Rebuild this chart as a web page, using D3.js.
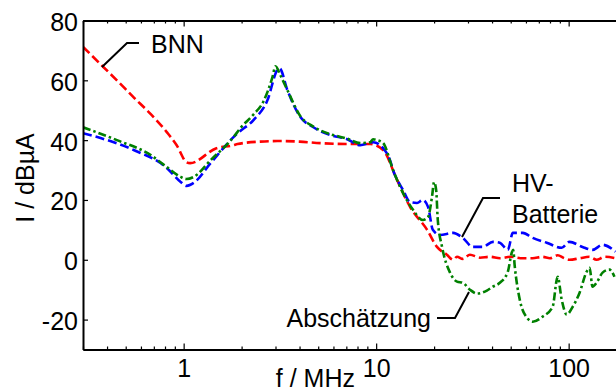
<!DOCTYPE html>
<html>
<head>
<meta charset="utf-8">
<script src="https://cdn.jsdelivr.net/npm/d3@7"></script>
<style>
  body { margin: 0; background: #fff; }
  svg { display: block; font-family: "Liberation Sans", Arial, sans-serif; }
</style>
</head>
<body>
<div id="chart"></div>
<script>
// [frequency in MHz, current in dBµA]
var bnn = [[0.3, 71.2], [0.385, 64.3], [0.45, 60], [0.55, 54.3], [0.675, 48.7],
  [0.817, 42.7], [0.92, 38.3], [1.036, 32.6], [1.08, 32.3],
  [1.48, 37.3], [1.815, 38.3], [1.905, 38.7], [2.5, 39.5], [3.07, 39.7], [4.0, 39.5],
  [5.13, 39], [7.07, 38.7], [9.31, 38.7], [10.87, 36.7], [12.84, 26.7], [15.0, 17.7],
  [18.4, 10], [20.7, 4.3], [23.3, 1.7], [25.1, 0], [26.3, 1], [28.2, 0.3], [30.7, 1.7],
  [34.6, 0.7], [39, 1], [44, 0.5], [50, 1], [57.8, 0.5], [65, 0.5], [73, 1], [80, 0.5],
  [87.7, 1.5], [95, 0.5], [101, 0], [114, 0.5], [128, 1], [139.6, 0], [154, 1], [175, 0.5]]

var hvBatterie = [[0.3, 42.3], [0.37, 40.7], [0.55, 36.7], [0.817, 30.7], [0.965, 26],
  [1.036, 24.7], [1.127, 25.7], [1.38, 32.3], [1.815, 41], [1.905, 42.3], [2.305, 46.7],
  [2.723, 53.3], [3.07, 63.5], [3.15, 64], [3.46, 56.7], [4.04, 47.7], [4.72, 44.3],
  [5.78, 41.7], [7.07, 40.3], [8.26, 38.3], [9.64, 39.3], [10.87, 37.3], [11.8, 33.3],
  [12.24, 30], [13.8, 23.3], [15.0, 19.3], [16.3, 19], [17.5, 20], [18.6, 17.7],
  [19.7, 10], [21.5, 8.3], [25.1, 9], [28.2, 7.3], [31.8, 4.3], [35.8, 4.3], [40.4, 6],
  [43.9, 5.7], [48.3, 3.3], [51.3, 9], [57.8, 9], [65.1, 7.3], [76.9, 5.7], [92.0, 4],
  [101, 6], [118, 4.3], [133, 3.3], [150, 5], [175, 2.7]]

var abschaetzung = [[0.3, 44.3], [0.45, 40], [0.675, 35], [0.817, 31], [0.965, 27.7],
  [1.036, 27], [1.127, 27.7], [1.38, 33.3], [1.815, 41], [1.97, 44], [2.3, 48.5],
  [2.6, 53], [2.89, 61], [3.0, 64.7], [3.18, 61.7], [3.46, 56.7], [4.04, 48], [4.72, 44.5],
  [5.78, 42], [7.07, 40.5], [8.26, 39], [9.31, 39.3], [9.64, 40.3], [10.1, 40],
  [10.87, 39], [12.24, 30], [13.8, 22.3], [15.55, 16.7], [17.5, 13.3], [18.6, 14.3],
  [19.5, 21], [20.0, 26], [20.5, 23.3], [20.9, 13.3], [22.0, 4.3], [24.2, -4.3],
  [26.3, -7.3], [28.2, -7.7], [30.7, -10], [33.4, -11.3], [37.6, -10.3], [40.4, -9],
  [43.9, -7.7], [48.3, -4], [50.7, 2.5], [51.5, 3.3], [52.5, -2.3], [55.7, -13.3],
  [60.6, -19.3], [65.1, -20.7], [73.3, -19], [82.6, -15.7], [86.7, -6.7], [87.7, -5.7],
  [92.0, -13.3], [97.7, -18.3], [105, -15.7], [114, -11], [124, -4], [128.5, -2.7],
  [133, -9], [139.6, -7.7], [150, -4.3], [163, -3.3], [173, -5.7]]

var xMajor = [1, 10, 100]
var xMinor = [0.3, 0.4, 0.5, 0.6, 0.7, 0.8, 0.9, 2, 3, 4, 5, 6, 7, 8, 9,
  20, 30, 40, 50, 60, 70, 80, 90, 200]
var yTicks = [-20, 0, 20, 40, 60, 80]

function init() {
    var w = 616
    var h = 389
    var left = 83
    var top = 20.5
    var bottom = 349.5
    var decade = 192.5

    var svg = d3.select("#chart")
                .append("svg")
                .attr("width", w)
                .attr("height", h)

    var x = d3.scaleLog()
              .domain([0.3, 200])
              .range([left, left + Math.log10(200 / 0.3) * decade])
    var y = d3.scaleLinear()
              .domain([-30, 80])
              .range([bottom, top])

    svg.append("clipPath")
       .attr("id", "plot")
       .append("rect")
       .attr("x", left)
       .attr("y", top)
       .attr("width", w - left)
       .attr("height", bottom - top)

    var line = d3.line()
                 .x(d => x(d[0]))
                 .y(d => y(d[1]))
                 .curve(d3.curveMonotoneX)

    var series = [
        { data: bnn, color: "#ff0000", dash: "9,4" },
        { data: hvBatterie, color: "#0000ff", dash: "9,4" },
        { data: abschaetzung, color: "#008000", dash: "8,3,2.5,3" }
    ]

    svg.append("g")
       .attr("clip-path", "url(#plot)")
       .selectAll("path")
       .data(series)
       .enter()
       .append("path")
       .attr("d", d => line(d.data))
       .attr("fill", "none")
       .attr("stroke", d => d.color)
       .attr("stroke-width", 2.6)
       .attr("stroke-dasharray", d => d.dash)

    // axes, ticks pointing inward
    var fmt = d => String(d)
    svg.append("g")
       .attr("transform", `translate(0,${bottom})`)
       .call(d3.axisBottom(x).tickValues(xMajor).tickFormat(fmt)
               .tickSizeInner(-6).tickSizeOuter(0).tickPadding(10))
    svg.append("g")
       .attr("transform", `translate(0,${bottom})`)
       .call(d3.axisBottom(x).tickValues(xMinor).tickFormat("")
               .tickSizeInner(-3).tickSizeOuter(0))
    svg.append("g")
       .attr("transform", `translate(0,${top})`)
       .call(d3.axisTop(x).tickValues(xMajor).tickFormat("")
               .tickSizeInner(-6).tickSizeOuter(0))
    svg.append("g")
       .attr("transform", `translate(0,${top})`)
       .call(d3.axisTop(x).tickValues(xMinor).tickFormat("")
               .tickSizeInner(-3).tickSizeOuter(0))
    var gy = svg.append("g")
                .attr("transform", `translate(${left},0)`)
                .call(d3.axisLeft(y).tickValues(yTicks).tickFormat(fmt)
                        .tickSizeInner(-5).tickSizeOuter(0).tickPadding(5))

    svg.selectAll(".domain").attr("stroke", "#000").attr("stroke-width", 2)
    svg.selectAll(".tick line").attr("stroke", "#000").attr("stroke-width", 1.2)
    svg.selectAll(".tick text")
       .attr("fill", "#000")
       .style("font-size", "25px")
       .style("font-family", "'Liberation Sans', Arial, sans-serif")
    gy.selectAll(".tick text").attr("dy", "0.4em")

    // axis titles
    svg.append("text")
       .text("f / MHz")
       .attr("x", 355)
       .attr("y", 387)
       .attr("text-anchor", "end")
       .style("font-size", "25px")
    svg.append("text")
       .text("I / dBµA")
       .attr("transform", "translate(34,178) rotate(-90)")
       .attr("text-anchor", "middle")
       .style("font-size", "25px")

    // annotations with leader lines
    var notes = [
        { lines: ["BNN"], x: 151, y: 53, pts: [[102, 67], [127, 43], [139, 43]] },
        { lines: ["HV-", "Batterie"], x: 512, y: 192, pts: [[462, 237], [483, 198], [500, 198]] },
        { lines: ["Abschätzung"], x: 431, y: 327, anchor: "end", pts: [[437, 318], [455, 318], [469, 292]] }
    ]
    notes.forEach(n => {
        svg.append("path")
           .attr("d", d3.line()(n.pts))
           .attr("fill", "none")
           .attr("stroke", "#000")
           .attr("stroke-width", 2)
        var t = svg.append("text")
                   .attr("x", n.x)
                   .attr("y", n.y)
                   .attr("text-anchor", n.anchor || "start")
                   .style("font-size", "25px")
        n.lines.forEach((s, i) => {
            t.append("tspan")
             .attr("x", n.x)
             .attr("dy", i == 0 ? 0 : 31)
             .text(s)
        })
    })
}

window.onload = init;
</script>
</body>
</html>
